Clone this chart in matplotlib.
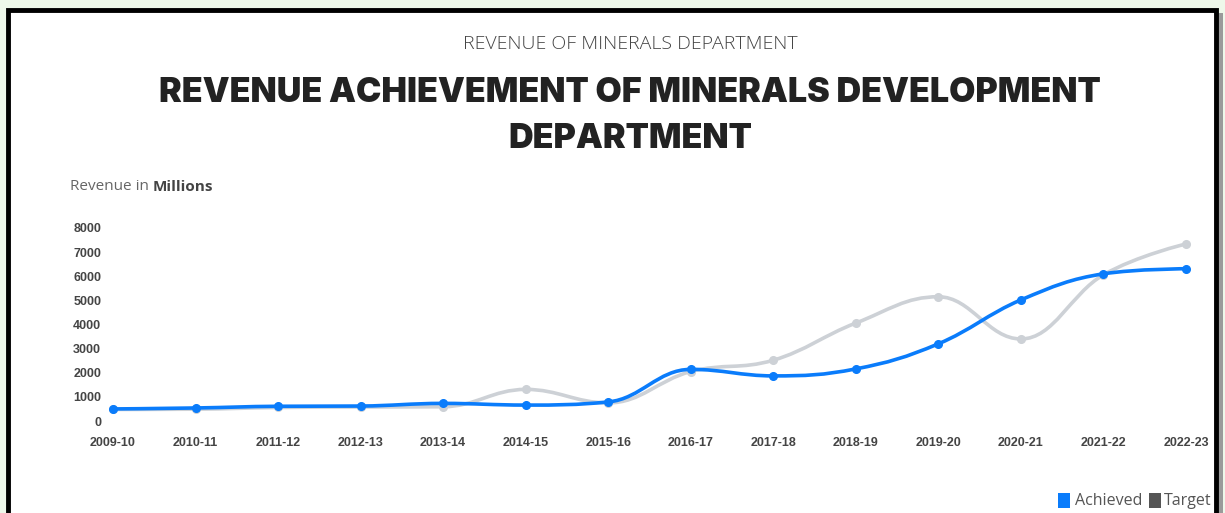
import numpy as np
import matplotlib
matplotlib.use("Agg")
import matplotlib.pyplot as plt
from matplotlib.patches import Rectangle
from matplotlib.path import Path
from matplotlib.patches import PathPatch

years = ["2009-10", "2010-11", "2011-12", "2012-13", "2013-14", "2014-15", "2015-16",
         "2016-17", "2017-18", "2018-19", "2019-20", "2020-21", "2021-22", "2022-23"]
achieved = [500, 540, 610, 620, 730, 660, 790, 2140, 1870, 2160, 3200, 5020, 6100, 6310]
target = [480, 490, 560, 580, 590, 1310, 750, 2050, 2520, 4060, 5150, 3400, 6060, 7340]
yticks = [0, 1000, 2000, 3000, 4000, 5000, 6000, 7000, 8000]

BLUE = "#0a7cfb"
GREY = "#cdd1d6"


def spline_path(xs, ys, smoothing=1.5):
    n = len(xs)
    left = [None] * n
    right = [None] * n
    for i in range(n):
        x, y = xs[i], ys[i]
        if i == 0 or i == n - 1:
            left[i] = (x, y)
            right[i] = (x, y)
            continue
        lx, ly = xs[i - 1], ys[i - 1]
        nx, ny = xs[i + 1], ys[i + 1]
        d = smoothing + 1
        lcx = (smoothing * x + lx) / d
        lcy = (smoothing * y + ly) / d
        rcx = (smoothing * x + nx) / d
        rcy = (smoothing * y + ny) / d
        if rcx != lcx:
            corr = ((rcy - lcy) * (rcx - x)) / (rcx - lcx) + y - rcy
            lcy += corr
            rcy += corr
        if lcy > ly and lcy > y:
            lcy = max(ly, y); rcy = 2 * y - lcy
        elif lcy < ly and lcy < y:
            lcy = min(ly, y); rcy = 2 * y - lcy
        if rcy > ny and rcy > y:
            rcy = max(ny, y); lcy = 2 * y - rcy
        elif rcy < ny and rcy < y:
            rcy = min(ny, y); lcy = 2 * y - rcy
        left[i] = (lcx, lcy)
        right[i] = (rcx, rcy)
    verts = [(xs[0], ys[0])]
    codes = [Path.MOVETO]
    for i in range(1, n):
        verts += [right[i - 1], left[i], (xs[i], ys[i])]
        codes += [Path.CURVE4] * 3
    return Path(verts, codes)


W, H = 1225, 513
fig = plt.figure(figsize=(W / 100, H / 100), dpi=100)
fig.patch.set_facecolor("#eef8ea")

# card frame
fig.patches.append(Rectangle((1218 / W, 0), 5 / W, (H - 13) / H, transform=fig.transFigure,
                             facecolor="#9a9a9a", edgecolor="none", zorder=-3))
fig.patches.append(Rectangle((8 / W, -0.05), (1208 / W), (H - 10) / H + 0.05, transform=fig.transFigure,
                             facecolor="white", edgecolor="black", linewidth=3.5, zorder=-2))

ax = fig.add_axes([113 / W, (H - 421) / H, 1073 / W, 193 / H])
ax.set_facecolor("none")
ax.set_zorder(2)
x = np.arange(len(years))

for vals, col, z in [(target, GREY, 3), (achieved, BLUE, 4)]:
    p = spline_path(list(x.astype(float)), list(map(float, vals)))
    ax.add_patch(PathPatch(p, facecolor="none", edgecolor=col, linewidth=2.6,
                           zorder=z, clip_on=False, capstyle="round"))
    ax.plot(x, vals, linestyle="none", marker="o", markersize=5.5, color=col,
            zorder=z, clip_on=False)

ax.set_xlim(0, len(years) - 1)
ax.set_ylim(0, 8000)
ax.set_xticks(x)
ax.set_xticklabels(years)
ax.set_yticks(yticks)
ax.set_yticklabels([str(v) for v in yticks])
for s in ax.spines.values():
    s.set_visible(False)
ax.tick_params(length=0)
ax.tick_params(axis="x", pad=11.5)
ax.tick_params(axis="y", pad=8.5)
for lab in ax.get_xticklabels() + ax.get_yticklabels():
    lab.set_fontfamily("Liberation Sans")
    lab.set_fontweight("bold")
    lab.set_fontsize(9)
    lab.set_color("#444444")

# titles
fig.text(630 / W, 1 - 44 / H, "REVENUE OF MINERALS DEPARTMENT", ha="center", va="center",
         fontsize=14, family="Open Sans", fontweight="light", color="#444444")
fig.text(630 / W, 1 - 93 / H, "REVENUE ACHIEVEMENT OF MINERALS DEVELOPMENT",
         ha="center", va="center", fontsize=24.5, family="Inter", fontweight="black",
         color="#222222")
fig.text(630 / W, 1 - 139 / H, "DEPARTMENT",
         ha="center", va="center", fontsize=24.5, family="Inter", fontweight="black",
         color="#222222")

t1 = fig.text(70 / W, 1 - 187 / H, "Revenue in ", ha="left", va="center",
              fontsize=11, family="Open Sans", color="#666666")
fig.canvas.draw()
bb = t1.get_window_extent()
fig.text(bb.x1 / W, 1 - 187 / H, "Millions", ha="left", va="center",
         fontsize=11, family="Open Sans", fontweight="bold", color="#444444")

# legend
ly = 1 - 501 / H
fig.patches.append(Rectangle((1058 / W, ly - 7 / H), 12 / W, 15 / H, transform=fig.transFigure,
                             facecolor=BLUE, edgecolor="none", zorder=5))
fig.text(1075 / W, ly, "Achieved", ha="left", va="center", fontsize=11.5,
         family="Open Sans", color="#555555")
fig.patches.append(Rectangle((1149 / W, ly - 7 / H), 12 / W, 15 / H, transform=fig.transFigure,
                             facecolor="#555555", edgecolor="none", zorder=5))
fig.text(1164 / W, ly, "Target", ha="left", va="center", fontsize=11.5,
         family="Open Sans", color="#555555")

fig.savefig("out.png", dpi=100, facecolor=fig.get_facecolor())
